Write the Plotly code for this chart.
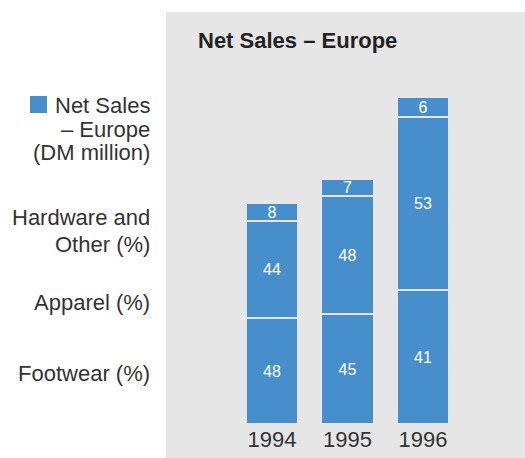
import plotly.graph_objects as go

years = ["1994", "1995", "1996"]
totals = [2101, 2335, 3111]
footwear_pct = [48, 45, 41]
apparel_pct = [44, 48, 53]
hardware_pct = [8, 7, 6]

title_text = "Net Sales – Europe"
legend_lines = ["Net Sales", "– Europe", "(DM million)"]
row_labels = [["Hardware and", "Other (%)"], ["Apparel (%)"], ["Footwear (%)"]]

W, H = 525, 458
ML, MR, MT, MB = 166, 0, 12, 34
PW, PH = W - ML - MR, H - MT - MB

BLUE = "#478ecd"
PANEL = "#e6e6e6"
TXT = "#333333"
FONT = "Liberation Sans"


def px_x(p):
    return (p - ML) / PW


def px_y(p):
    return (H - MB - p) / PH


fig = go.Figure()
for pcts in [footwear_pct, apparel_pct, hardware_pct]:
    fig.add_trace(go.Bar(
        x=years,
        y=[t * p / 100 for t, p in zip(totals, pcts)],
        text=[str(p) for p in pcts],
        textposition="inside",
        insidetextanchor="middle",
        textangle=0,
        textfont=dict(color="white", size=16, family=FONT),
        marker=dict(color=BLUE, line=dict(color=PANEL, width=2)),
        width=0.69,
        hoverinfo="skip",
        showlegend=False,
    ))

annotations = []
for yr, t in zip(years, totals):
    annotations.append(dict(
        x=yr, y=t, xref="x", yref="y", text=f"{t:,}", showarrow=False,
        yanchor="bottom", yshift=1, font=dict(size=22, color=TXT, family=FONT)))

annotations.append(dict(
    x=px_x(196), y=px_y(41), xref="paper", yref="paper", text="<b>" + title_text + "</b>",
    showarrow=False, xanchor="left", yanchor="middle",
    font=dict(size=22, color="#222222", family=FONT)))

left_ys = [[105, 129, 153], [217, 244], [302], [373]]
groups = [legend_lines] + row_labels
for lines, ys in zip(groups, left_ys):
    for line, yy in zip(lines, ys):
        annotations.append(dict(
            x=px_x(152), y=px_y(yy), xref="paper", yref="paper", text=line,
            showarrow=False, xanchor="right", yanchor="middle",
            font=dict(size=22, color=TXT, family=FONT)))

shapes = [
    dict(type="rect", xref="paper", yref="paper", x0=0, x1=1, y0=px_y(H), y1=1,
         fillcolor=PANEL, line=dict(width=0), layer="below"),
    dict(type="rect", xref="paper", yref="paper", x0=px_x(30), x1=px_x(47),
         y0=px_y(113), y1=px_y(96), fillcolor=BLUE, line=dict(width=0)),
]

fig.update_layout(
    width=W, height=H,
    margin=dict(l=ML, r=MR, t=MT, b=MB),
    paper_bgcolor="white", plot_bgcolor="rgba(0,0,0,0)",
    barmode="stack", bargap=0,
    annotations=annotations, shapes=shapes,
    uniformtext=dict(minsize=16, mode="show"),
    xaxis=dict(type="category", range=[-1.404, 3.351], showgrid=False, zeroline=False,
               showline=False, ticks="", automargin=False,
               tickfont=dict(size=22, color=TXT, family=FONT)),
    yaxis=dict(range=[0, 3924], visible=False, automargin=False),
    font=dict(family=FONT),
)

fig.write_html("out.html", config={"displayModeBar": False},
               post_script="document.body.style.margin='0';")
